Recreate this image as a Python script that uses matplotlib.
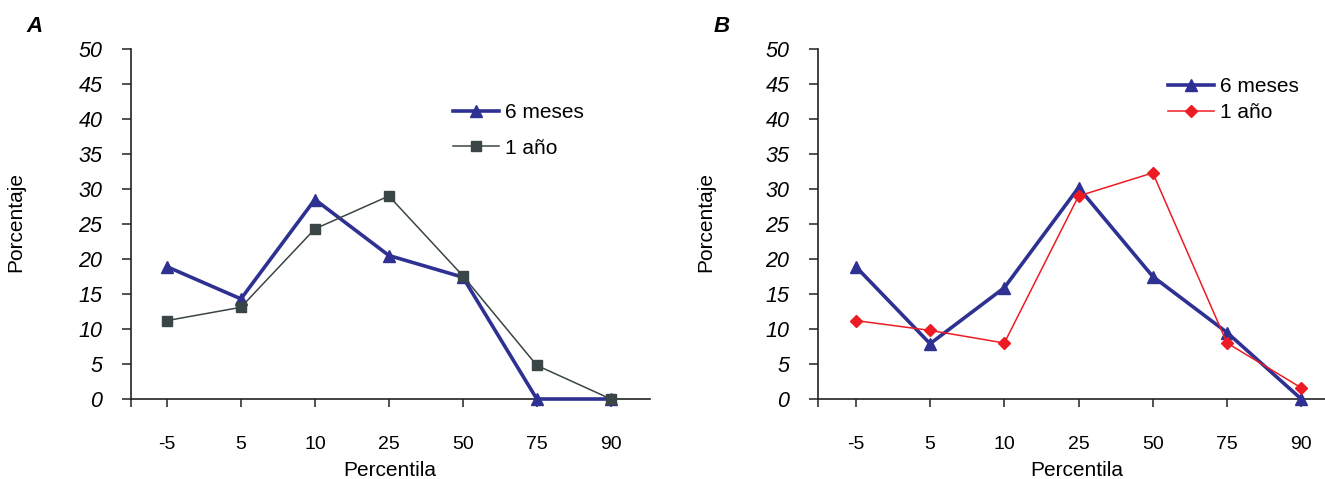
import matplotlib
matplotlib.use("Agg")
import matplotlib.pyplot as plt
from matplotlib import font_manager as fm
from matplotlib.font_manager import FontProperties

# ---------------- data ----------------
categories = ["-5", "5", "10", "25", "50", "75", "90"]
a_6meses = [18.9, 14.3, 28.5, 20.5, 17.4, 0.0, 0.0]
a_1anio = [11.2, 13.1, 24.3, 29.0, 17.6, 4.8, 0.0]
b_6meses = [18.9, 7.9, 15.9, 30.2, 17.5, 9.5, 0.0]
b_1anio = [11.2, 9.8, 8.0, 29.0, 32.3, 8.0, 1.6]
yticks = list(range(0, 51, 5))
series_labels = ["6 meses", "1 año"]

# ---------------- fonts ----------------
names = {f.name for f in fm.fontManager.ttflist}
if "Liberation Sans Narrow" in names:
    narrow_fam = ["Liberation Sans Narrow", "DejaVu Sans"]
else:
    narrow_fam = ["Liberation Sans", "DejaVu Sans"]
reg_fam = ["Liberation Sans", "DejaVu Sans"]

fp_ytick = FontProperties(family=narrow_fam, size=15.5, style="italic")
fp_xtick = FontProperties(family=narrow_fam, size=14)
fp_label = FontProperties(family=narrow_fam, size=15)
fp_leg = FontProperties(family=reg_fam, size=15)
fp_panel = FontProperties(family=reg_fam, size=16, weight="bold", style="italic")

BLUE = "#2e3192"
GRAY = "#3a4545"
RED = "#ed1c24"
AXC = "#222222"

fig = plt.figure(figsize=(13.25, 4.79), dpi=100)

panels = [
    dict(rect=[131 / 1325, 1 - 399 / 479, 519 / 1325, 350 / 479], xlim=(-0.486, 6.53),
         s1=a_6meses, s2=a_1anio, c2=GRAY, m2="s", ms2=6.5, letter="A", lx=35,
         leg_anchor=(0.62, 0.845), lspace=0.79, xlab_x=0.499),
    dict(rect=[818 / 1325, 1 - 399 / 479, 507 / 1325, 350 / 479], xlim=(-0.51, 6.32),
         s1=b_6meses, s2=b_1anio, c2=RED, m2="D", ms2=6.5, letter="B", lx=722,
         leg_anchor=(0.691, 0.92), lspace=0.36, xlab_x=0.51),
]

x = list(range(len(categories)))
for p in panels:
    ax = fig.add_axes(p["rect"])
    ax.plot(x, p["s1"], color=BLUE, lw=2.6, marker="^", ms=9, mfc=BLUE, mec=BLUE,
            label=series_labels[0], clip_on=False, zorder=3)
    ax.plot(x, p["s2"], color=p["c2"], lw=1.1, marker=p["m2"], ms=p["ms2"], mfc=p["c2"],
            mec=p["c2"], label=series_labels[1], clip_on=False, zorder=4)
    ax.set_xlim(*p["xlim"])
    ax.set_ylim(0, 50)
    for s in ["top", "right"]:
        ax.spines[s].set_visible(False)
    for s in ["left", "bottom"]:
        ax.spines[s].set_linewidth(1.2)
        ax.spines[s].set_color(AXC)
    ax.set_yticks(yticks)
    ax.set_yticklabels([str(v) for v in yticks], fontproperties=fp_ytick)
    ax.tick_params(axis="y", length=6.5, width=1.1, pad=14, color=AXC)
    ax.set_xticks(x)
    ax.set_xticklabels(categories, fontproperties=fp_xtick)
    ax.tick_params(axis="x", length=5.5, width=1.1, pad=21, color=AXC)
    # extra tick at the axis origin
    ax.set_xticks([p["xlim"][0]], minor=True)
    ax.tick_params(axis="x", which="minor", length=5.5, width=1.1, color=AXC)
    ax.set_xlabel("Percentila", fontproperties=fp_label)
    ax.xaxis.set_label_coords(p["xlab_x"], -0.203)
    ax.xaxis.label.set_va("center")
    ax.set_ylabel("Porcentaje", fontproperties=fp_label)
    ax.yaxis.set_label_coords(-0.222, 0.506)
    ax.yaxis.label.set_va("center")
    ax.legend(loc="upper left", bbox_to_anchor=p["leg_anchor"], prop=fp_leg, frameon=False,
              handlelength=2.2, handletextpad=0.3, labelspacing=p["lspace"],
              borderaxespad=0, borderpad=0)
    fig.text(p["lx"] / 1325, 1 - 26 / 479, p["letter"], fontproperties=fp_panel,
             ha="center", va="center")

fig.savefig("out.png", dpi=100)
